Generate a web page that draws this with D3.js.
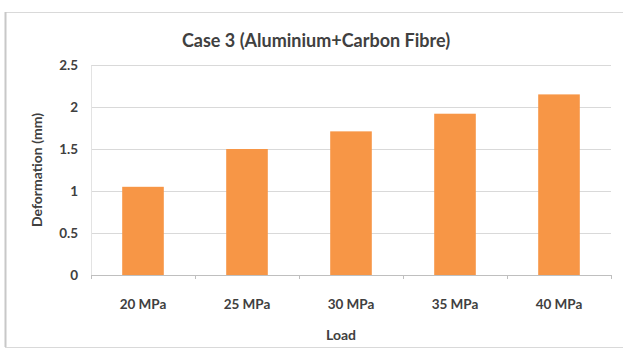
<!DOCTYPE html>
<html>
<head>
<meta charset="utf-8">
<script src="https://cdn.jsdelivr.net/npm/d3@7"></script>
<style>
  html, body { margin: 0; padding: 0; background: #fff; }
  svg { display: block; }
  text { font-family: Lato, "Open Sans", sans-serif; fill: #404040; }
</style>
</head>
<body>
<svg id="chart" width="623" height="354"></svg>
<script>
// Deformation under load for the aluminium + carbon fibre case
const loads = ["20 MPa", "25 MPa", "30 MPa", "35 MPa", "40 MPa"];
const deformation = [1.05, 1.50, 1.71, 1.92, 2.15];
const yTicks = [0, 0.5, 1, 1.5, 2, 2.5];
const yTickLabels = ["0", "0.5", "1", "1.5", "2", "2.5"];

const svg = d3.select("#chart");
const W = 623, H = 354;
const plot = { left: 91, right: 611, top: 65, bottom: 275 };

// chart frame
svg.append("rect")
  .attr("x", 5.5).attr("y", 12.5)
  .attr("width", W + 10).attr("height", 335)
  .attr("fill", "#fff").attr("stroke", "#d9d9d9").attr("stroke-width", 1);
svg.append("line")
  .attr("x1", 5.5).attr("x2", 5.5).attr("y1", 12).attr("y2", 347)
  .attr("stroke", "#c8c8c8").attr("stroke-width", 2);

const x = d3.scaleBand().domain(loads).range([plot.left, plot.right]).paddingInner(0.6).paddingOuter(0.3);
const xb = d3.scaleBand().domain(loads).range([plot.left, plot.right]);
const y = d3.scaleLinear().domain([0, 2.5]).range([plot.bottom, plot.top]);

// horizontal gridlines
svg.append("g").selectAll("line").data(yTicks.filter(d => d > 0)).join("line")
  .attr("x1", plot.left).attr("x2", plot.right)
  .attr("y1", d => Math.round(y(d)) + 0.5).attr("y2", d => Math.round(y(d)) + 0.5)
  .attr("stroke", "#d9d9d9").attr("stroke-width", 1);

// y axis
const yAxis = d3.axisLeft(y).tickValues(yTicks)
  .tickFormat((d, i) => yTickLabels[i]).tickSize(0).tickPadding(13);
const gy = svg.append("g").attr("transform", `translate(${plot.left},0)`).call(yAxis);
gy.select(".domain").attr("stroke", "#e3e3e3");
gy.selectAll("text").attr("font-size", 13.5).attr("font-weight", "bold").attr("fill", "#404040")
  .style("font-family", "Lato, sans-serif");

// bars
svg.append("g").selectAll("rect").data(deformation).join("rect")
  .attr("x", (d, i) => x(loads[i]))
  .attr("width", x.bandwidth())
  .attr("y", d => y(d))
  .attr("height", d => y(0) - y(d))
  .attr("fill", "#F79646");

// x axis
const xAxis = d3.axisBottom(xb).tickSize(0).tickPadding(34);
const gx = svg.append("g").attr("transform", `translate(0,${plot.bottom})`).call(xAxis);
gx.select(".domain").attr("stroke", "#bfbfbf");
gx.selectAll("text").attr("font-size", 13.5).attr("font-weight", "bold").attr("fill", "#404040")
  .attr("dy", "0")
  .style("font-family", "Lato, sans-serif");
// tick marks at category boundaries
svg.append("g").selectAll("line").data(loads.concat(["end"])).join("line")
  .attr("x1", (d, i) => Math.round(plot.left + i * xb.step()) + 0.5)
  .attr("x2", (d, i) => Math.round(plot.left + i * xb.step()) + 0.5)
  .attr("y1", plot.bottom).attr("y2", plot.bottom + 4)
  .attr("stroke", "#bfbfbf");

// axis titles
svg.append("text").attr("x", 341).attr("y", 340)
  .attr("text-anchor", "middle").attr("font-size", 14).attr("font-weight", "bold")
  .text("Load");
svg.append("text")
  .attr("transform", "translate(42,170) rotate(-90)")
  .attr("text-anchor", "middle").attr("font-size", 14).attr("font-weight", "bold")
  .text("Deformation (mm)");

// chart title
svg.append("text").attr("x", 316).attr("y", 47)
  .attr("text-anchor", "middle").attr("font-size", 18).attr("font-weight", "bold")
  .attr("fill", "#262626")
  .text("Case 3 (Aluminium+Carbon Fibre)");
</script>
</body>
</html>
